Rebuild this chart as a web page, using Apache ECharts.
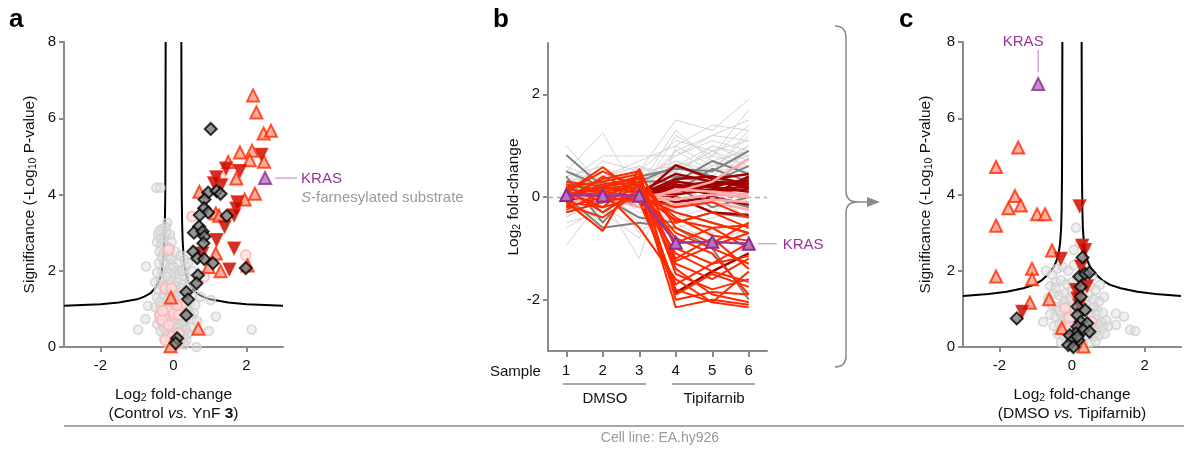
<!DOCTYPE html>
<html><head><meta charset="utf-8">
<script src="https://cdn.jsdelivr.net/npm/echarts@6/dist/echarts.min.js"></script>
<style>html,body{margin:0;padding:0;background:#fff}#c{width:1184px;height:452px}</style>
</head><body><div id="c"></div>
<script>
const FONT = "'Liberation Sans', Arial, Helvetica, sans-serif";

// ---------- Panel a: Control vs. YnF 3 ----------
const a_gray = [[-0.47,4.18],[-0.36,4.18],[-0.75,2.11],[-0.97,0.45],[-0.77,0.73],[-0.70,1.08],[1.16,0.8],[0.97,0.42],[2.14,0.46],[0.63,0.0],[1.02,1.23],[0.74,1.32],
[-0.17,3.26],[-0.3,3.1],[-0.42,2.95],[-0.25,2.9],[-0.1,2.95],[-0.45,2.75],[-0.33,2.7],[-0.2,2.65],[-0.05,2.75],[-0.38,2.5],[-0.28,2.45],[-0.12,2.4],[0.05,2.5],[0.2,2.4],[0.3,2.3],[-0.4,2.2],[-0.25,2.2],[-0.08,2.15],[0.1,2.2],[0.35,2.1],[0.5,2.0],[-0.45,1.95],[-0.3,2.0],[-0.15,1.95],[0.0,1.95],[0.15,1.9],[0.3,1.85],[0.45,1.8],[-0.5,1.7],[-0.35,1.75],[-0.2,1.7],[-0.05,1.72],[0.1,1.7],[0.25,1.65],[0.4,1.6],[0.55,1.55],[-0.4,1.5],[-0.25,1.5],[-0.1,1.45],[0.05,1.5],[0.2,1.45],[0.35,1.4],[0.5,1.35],[-0.45,1.3],[-0.3,1.28],[-0.15,1.25],[0.0,1.25],[0.15,1.22],[0.3,1.2],[0.45,1.15],[0.6,1.1],[-0.5,1.05],[-0.35,1.05],[-0.2,1.0],[-0.05,1.02],[0.1,1.0],[0.25,0.98],[0.4,0.95],[0.55,0.9],[-0.4,0.85],[-0.25,0.82],[-0.1,0.8],[0.05,0.8],[0.2,0.78],[0.35,0.75],[0.5,0.72],[0.65,0.68],[-0.45,0.6],[-0.3,0.62],[-0.15,0.6],[0.0,0.58],[0.15,0.6],[0.3,0.55],[0.45,0.52],[-0.35,0.42],[-0.2,0.4],[-0.05,0.38],[0.1,0.4],[0.25,0.38],[0.4,0.35],[-0.25,0.22],[-0.1,0.2],[0.05,0.22],[0.2,0.2],[0.35,0.18],[-0.15,0.08],[0.0,0.05],[0.15,0.08],[0.3,0.06],[-0.05,2.3],[-0.35,2.85],[-0.2,3.0],[0.12,2.0],[0.25,2.0],[0.4,2.2],
[-0.22,3.15],[-0.38,3.05],[-0.12,2.6],[-0.32,2.35],[0.0,2.1],[-0.18,1.85],[0.05,1.6],[-0.3,1.6],[0.2,1.55],[-0.08,1.35],[0.25,1.3],[-0.38,1.18],[0.05,1.12],[0.35,1.05],[-0.28,0.92],[0.15,0.9],[0.45,0.85],[-0.05,0.68],[0.25,0.68],[-0.38,0.72],[0.1,0.5],[-0.25,0.5],[0.35,0.45],[0.0,0.3],[-0.15,0.3],[0.28,0.28],[0.1,0.12]];
const a_pink = [[0.51,3.42],[-0.13,2.55],[-0.22,1.54],[-0.06,1.54],[1.98,2.41],[0.84,1.85],[1.29,4.47],[-0.36,0.84],[-0.17,0.97],[-0.31,0.71],[0.01,0.88],[0.19,1.06],[0.15,0.84],[-0.13,0.58],[-0.04,0.27],[0.15,0.36],[0.10,0.14],[0.27,1.15],[-0.22,0.18],[0.05,0.05],[-0.3,0.95],[0.1,1.1]];
const a_up = [[2.18,6.6],[2.27,6.15],[2.47,5.6],[2.67,5.67],[1.82,5.1],[2.15,5.15],[2.09,4.9],[2.48,4.86],[1.5,4.85],[1.72,4.42],[2.23,4.02],[1.95,3.87],[0.71,4.07],[1.16,3.5],[1.25,3.44],[1.16,2.45],[0.96,2.1],[1.29,1.99],[2.03,2.14],[-0.07,1.3],[0.68,0.48],[-0.08,0.02]];
const a_down = [[2.41,5.05],[1.44,4.69],[1.82,4.62],[1.17,4.46],[1.31,4.25],[1.11,4.3],[1.75,3.8],[1.72,3.64],[1.66,3.46],[1.4,3.16],[1.18,2.81],[1.66,2.59],[1.53,2.04],[0.79,2.46]];
const a_diamond = [[1.02,5.72],[0.95,4.05],[0.85,3.87],[1.18,4.09],[1.29,4.02],[0.84,3.64],[0.95,3.53],[0.72,3.46],[1.46,3.44],[0.70,3.16],[0.56,3.0],[0.8,3.03],[0.85,2.9],[0.82,2.72],[0.54,2.5],[0.65,2.33],[0.84,2.31],[1.08,2.2],[1.98,2.07],[0.67,1.88],[0.63,1.67],[0.35,1.44],[0.40,1.25],[0.35,0.84],[0.10,0.23],[0.06,0.1]];
const a_kras = [[2.51,4.43]];
const thrA_absX = [0.215,0.22,0.225,0.235,0.25,0.28,0.33,0.4,0.5,0.63,0.8,1.0,1.5,2.0,3.0];
const thrA_y    = [8,5.5,4.0,3.3,2.8,2.3,1.95,1.72,1.55,1.41,1.32,1.25,1.17,1.12,1.08];

// ---------- Panel b: per-sample log2 fold-change ----------
const samples = ['1','2','3','4','5','6'];
const b_lightgray = [
[1.0,0.2,0.5,1.5,1.3,1.9],[0.5,1.25,0.0,1.2,0.8,1.7],[-0.95,0.0,-1.2,1.0,1.4,1.3],[0.3,0.8,0.8,0.8,1.2,1.5],[-0.5,-0.3,-0.8,0.5,0.9,1.1],
[0.6,0.3,0.4,0.7,0.4,1.0],[0.0,0.4,0.7,1.0,0.6,0.8],[-0.3,0.1,-0.5,0.3,0.7,0.5],[0.2,-0.2,0.3,0.6,1.0,0.7],[0.4,0.6,0.2,0.9,0.5,1.2],
[-0.2,-0.4,0.5,-0.3,-0.7,-0.5],[0.1,0.2,-0.3,-0.4,-0.2,-0.8],[-0.4,0.0,0.1,-0.6,-0.4,-0.3],[0.5,0.1,0.6,0.2,0.3,0.9],[0.0,-0.5,0.2,0.4,0.2,0.4],
[0.3,0.5,-0.2,0.1,0.8,0.6],[-0.6,-0.2,0.3,0.8,1.1,0.9],[0.2,0.0,0.4,0.5,0.1,0.3],[-0.1,0.3,-0.7,-0.2,0.3,-0.1],[0.6,-0.1,0.0,0.0,-0.3,0.2],
[0.1,0.7,0.5,1.1,0.9,0.6],[-0.2,0.2,-0.1,0.7,0.5,1.3],[0.4,-0.3,0.1,-0.5,-0.9,-0.6],[0.0,0.1,0.3,0.3,0.6,1.0],[-0.3,-0.1,0.2,0.6,0.3,0.7],
[0.3,0.4,0.6,0.4,1.0,0.8],[0.2,0.1,-0.4,-0.8,-0.6,-1.0],[-0.1,0.5,0.0,0.9,1.2,1.1],[0.1,-0.4,0.4,0.2,-0.1,0.5],[0.5,0.3,0.2,1.3,0.7,0.9],
[-0.4,0.2,0.0,0.0,0.4,0.2],[0.0,0.0,0.5,0.6,0.8,1.4],[0.3,0.2,0.1,-0.2,0.0,-0.4],[-0.2,0.4,0.3,0.5,0.9,0.4],[0.1,-0.2,-0.6,0.2,0.5,0.6]];
const b_darkgray = [
[0.82,0.2,0.4,0.55,0.5,0.9],[0.4,-0.5,0.3,0.3,0.7,0.45],[0.0,-0.6,-0.5,-0.6,-1.0,-2.0],[0.3,0.1,-0.2,0.4,0.3,0.6],[-0.2,0.3,0.0,-0.3,-0.5,-0.7],
[0.2,-0.3,0.15,-0.1,0.0,-0.2],[0.5,0.2,0.0,0.2,-0.2,0.0],[-0.3,-0.1,0.3,0.6,0.4,0.15],[0.1,0.0,-0.4,-0.5,-0.3,-0.4],[0.25,0.15,0.1,0.1,0.55,0.3]];
const b_darkred = [
[0.0,0.05,0.0,0.62,0.35,0.45],[0.1,-0.05,0.1,0.2,0.3,0.25],[-0.05,0.0,0.05,0.15,0.2,0.35],[0.05,0.1,-0.05,0.25,0.1,0.15],[0.0,-0.1,0.1,0.1,0.25,0.3],
[-0.1,0.05,0.0,0.3,0.2,0.1],[0.05,0.0,0.1,0.05,0.15,0.2],[0.0,0.1,0.05,0.35,0.4,0.25],[0.1,0.0,-0.1,-0.1,0.0,-0.15],[-0.05,-0.05,0.0,0.2,0.05,0.4],
[0.0,0.05,0.05,-1.86,-1.45,-1.1],[0.05,-0.1,0.0,0.0,-0.3,-0.35],[0.0,0.0,0.1,0.45,0.3,0.2]];
const b_pink = [[0.0,0.1,0.05,-0.05,0.05,0.0],[-0.1,0.0,-0.2,-0.2,-0.1,-0.25],[0.1,0.05,0.0,0.1,0.3,0.75],[0.05,-0.1,0.1,-0.15,-0.05,-0.1],[0.0,0.0,-0.1,0.15,0.1,0.05]];
const b_red = [
[0.1,0.58,0.05,-0.45,-0.6,-0.55],[-0.1,-0.66,0.55,-1.0,-1.3,-1.15],[0.3,0.2,0.1,-1.9,-1.5,-1.75],[-0.3,-0.1,0.2,-2.15,-2.0,-2.1],[0.0,0.1,-0.6,-1.6,-2.05,-2.15],
[0.2,0.3,0.45,-0.6,-0.9,-0.5],[-0.2,0.0,0.3,-1.2,-0.8,-1.4],[0.1,-0.2,0.0,-0.3,-0.5,-0.7],[0.05,0.2,0.4,-1.5,-1.8,-1.6],[-0.1,0.4,0.1,-0.8,-1.1,-1.9],
[0.15,-0.3,0.15,-1.3,-1.6,-1.2],[0.0,0.35,0.5,-2.0,-1.85,-1.9],[-0.25,0.1,0.2,-0.9,-0.6,-1.0],[0.2,-0.1,0.05,-1.1,-1.45,-1.65],[0.0,0.2,0.3,-0.5,-0.3,-0.6],
[0.1,0.0,-0.1,-1.7,-1.3,-0.9],[-0.05,0.25,0.35,-1.4,-1.9,-2.05],[0.25,0.1,0.0,-0.2,-0.1,-0.4],[-0.15,-0.4,0.1,-0.7,-1.0,-1.3],[0.05,0.15,0.25,-1.8,-2.05,-1.45],
[0.1,0.5,0.2,-0.4,-0.75,-0.85],[-0.1,-0.2,0.4,-1.25,-0.95,-0.7]];
const b_kras = [0.04,0.03,0.03,-0.89,-0.87,-0.91];

// ---------- Panel c: DMSO vs. Tipifarnib ----------
const c_gray = [[0.11,3.13],[0.05,2.55],[0.22,2.72],[-0.72,2.0],[-0.79,0.66],[0.88,1.32],[1.21,0.88],[1.43,0.8],[1.6,0.45],[1.74,0.42],[0.77,1.63],[1.21,0.58],[0.58,0.45],
[-0.55,1.9],[-0.4,2.05],[-0.25,2.1],[-0.1,2.0],[0.05,2.15],[0.4,2.0],[0.55,1.85],[-0.6,1.6],[-0.45,1.7],[-0.3,1.75],[-0.15,1.65],[0.0,1.7],[0.15,1.75],[0.5,1.6],[0.65,1.5],[-0.65,1.3],[-0.5,1.4],[-0.35,1.35],[-0.2,1.4],[-0.05,1.3],[0.1,1.35],[0.45,1.35],[0.6,1.25],[0.75,1.2],[-0.55,1.1],[-0.4,1.05],[-0.25,1.1],[-0.1,1.0],[0.05,1.05],[0.4,1.1],[0.55,1.0],[0.7,0.95],[0.85,0.9],[-0.6,0.85],[-0.45,0.8],[-0.3,0.85],[-0.15,0.75],[0.0,0.8],[0.35,0.8],[0.5,0.75],[0.65,0.7],[0.8,0.65],[0.95,0.7],[-0.5,0.55],[-0.35,0.6],[-0.2,0.55],[-0.05,0.5],[0.1,0.55],[0.4,0.55],[0.55,0.5],[0.7,0.45],[0.85,0.5],[1.0,0.55],[-0.4,0.35],[-0.25,0.3],[-0.1,0.3],[0.05,0.25],[0.45,0.3],[0.6,0.28],[0.75,0.3],[0.9,0.35],[-0.3,0.12],[-0.15,0.1],[0.0,0.08],[0.3,0.1],[0.5,0.12],[0.65,0.15],[-0.45,1.55],[0.3,1.55],[0.25,1.2],[0.2,0.9],[0.15,0.35],[0.3,0.65],
[-0.2,1.2],[-0.35,0.95],[0.0,1.45],[0.35,1.25],[0.6,1.05],[-0.1,0.65],[0.25,0.45],[0.7,0.6],[-0.25,0.7],[0.5,0.9]];
const c_pink = [[-0.19,1.02],[-0.08,0.75],[0.54,0.66],[-0.06,0.53],[0.1,0.9]];
const c_up = [[-1.48,5.23],[-2.09,4.72],[-1.57,3.96],[-1.75,3.64],[-1.41,3.71],[-0.96,3.48],[-0.74,3.48],[-2.09,3.18],[-2.09,1.85],[-1.1,2.05],[-1.1,1.78],[-0.55,2.53],[-1.16,1.16],[-0.63,1.25],[-0.28,0.5],[0.32,0.01]];
const c_down = [[0.21,3.7],[-0.31,2.32],[0.28,2.66],[0.36,2.55],[0.25,2.12],[0.11,1.5],[0.41,1.6],[0.15,1.28],[-1.37,0.93],[0.2,1.1]];
const c_diamond = [[-1.52,0.75],[0.29,2.35],[0.2,1.85],[0.36,1.92],[0.48,1.95],[0.24,1.58],[0.24,1.32],[0.15,1.06],[0.36,0.97],[0.15,0.84],[0.24,0.66],[0.42,0.62],[0.15,0.53],[0.31,0.45],[0.48,0.4],[0.11,0.36],[-0.06,0.31],[0.17,0.18],[0.02,0.17],[-0.1,0.05],[0.04,0.0],[0.15,0.27]];
const c_kras = [[-0.93,6.9]];
const thrC_absX = [0.265,0.27,0.275,0.285,0.3,0.33,0.37,0.43,0.5,0.6,0.72,0.85,1.05,1.34,1.8,2.3,3.0];
const thrC_y    = [8,6,4.5,3.6,3.1,2.7,2.45,2.25,2.1,1.97,1.85,1.74,1.63,1.54,1.45,1.39,1.34];

const volcanoXTicks = [-2,0,2];
const lineYTicks = [-2,0,2];

// ---------- styles ----------
const AX = '#8a8a8a';
const rich = {
  t:{fontSize:15.5,fontFamily:FONT,color:'#111',lineHeight:19},
  s:{fontSize:10.5,fontFamily:FONT,color:'#111',lineHeight:10,verticalAlign:'bottom'},
  i:{fontSize:15.5,fontFamily:FONT,color:'#111',fontStyle:'italic',lineHeight:19},
  b:{fontSize:15.5,fontFamily:FONT,color:'#111',fontWeight:'bold',lineHeight:19}
};
function baseAxis(extra){
  return Object.assign({
    axisLine:{show:true,onZero:false,lineStyle:{color:AX,width:2}},
    axisTick:{show:true,length:5,lineStyle:{color:AX,width:2}},
    axisLabel:{color:'#111',fontSize:15,fontFamily:FONT},
    splitLine:{show:false},
    nameLocation:'middle',
    nameTextStyle:{rich:rich}
  }, extra);
}
function volcX(grid,name){
  const o = baseAxis({gridIndex:grid,type:'value',min:-3,max:3,name:name,nameGap:38});
  o.axisLabel = Object.assign({},o.axisLabel,{customValues:volcanoXTicks,margin:11});
  o.axisTick = Object.assign({},o.axisTick,{customValues:volcanoXTicks});
  return o;
}
function volcY(grid,gap){
  return baseAxis({gridIndex:grid,type:'value',min:0,max:8,interval:2,
    name:'{t|Significance (-Log}{s|10}{t| P-value)}',nameGap:gap});
}

const series = [];
function curve(grid, absX, ys){
  [-1,1].forEach(sgn=>{
    series.push({type:'line',xAxisIndex:grid,yAxisIndex:grid,silent:true,animation:false,
      symbol:'none',z:1,lineStyle:{color:'#000',width:2},
      data:absX.map((x,i)=>[sgn*x,ys[i]])});
  });
}
function scat(grid,data,kind,z){
  const st = {
    gray:{symbol:'circle',size:9,item:{color:'rgba(222,222,222,0.6)',borderColor:'#d0d0d0',borderWidth:1.6}},
    pink:{symbol:'circle',size:10,item:{color:'rgba(255,222,222,0.85)',borderColor:'#ffb3b3',borderWidth:2}},
    up:{symbol:'triangle',size:12,item:{color:'#ff9c8c',borderColor:'#ff2a00',borderWidth:2}},
    down:{symbol:'triangle',size:12,rot:180,item:{color:'#c00000',borderColor:'#e41e00',borderWidth:1.6}},
    dia:{symbol:'diamond',size:12,item:{color:'#7a7a7a',borderColor:'#000',borderWidth:2}},
    kras:{symbol:'triangle',size:12,item:{color:'#b574bd',borderColor:'#8e2a91',borderWidth:2}}
  }[kind];
  series.push({type:'scatter',xAxisIndex:grid,yAxisIndex:grid,silent:true,animation:false,
    symbol:st.symbol,symbolSize:st.size,symbolRotate:st.rot||0,itemStyle:st.item,z:z,data:data});
}
// panel a
curve(0,thrA_absX,thrA_y);
scat(0,a_gray,'gray',2); scat(0,a_pink,'pink',3); scat(0,a_up,'up',4); scat(0,a_down,'down',5); scat(0,a_diamond,'dia',6); scat(0,a_kras,'kras',7);
// panel c
curve(2,thrC_absX,thrC_y);
scat(2,c_gray,'gray',2); scat(2,c_pink,'pink',3); scat(2,c_up,'up',4); scat(2,c_down,'down',5); scat(2,c_diamond,'dia',6); scat(2,c_kras,'kras',7);
// panel b
function lines(arr,color,width,z){
  arr.forEach(d=>series.push({type:'line',xAxisIndex:1,yAxisIndex:1,silent:true,animation:false,
    symbol:'none',z:z,lineStyle:{color:color,width:width},data:d}));
}
series.push({type:'line',xAxisIndex:1,yAxisIndex:1,silent:true,animation:false,symbol:'none',z:1,data:[],
  markLine:{silent:true,symbol:'none',animation:false,label:{show:false},
    lineStyle:{color:'#aaaaaa',type:[5,4],width:1.3},data:[{yAxis:0}]}});
lines(b_lightgray,'#d4d4d4',1,2);
lines(b_darkgray,'#808080',2,3);
lines(b_darkred,'#a30000',2.5,4);
lines(b_pink,'#ffaaaa',2.5,5);
lines(b_red,'#ff2a00',2,6);
series.push({type:'line',xAxisIndex:1,yAxisIndex:1,silent:true,animation:false,z:8,
  symbol:'triangle',symbolSize:12,showSymbol:true,
  lineStyle:{color:'#97389c',width:2.5},itemStyle:{color:'#b574bd',borderColor:'#8e2a91',borderWidth:2},data:b_kras});

const yB = baseAxis({gridIndex:1,type:'value',min:-3,max:3,name:'{t|Log}{s|2}{t| fold-change}',nameGap:23});
yB.axisLabel = Object.assign({},yB.axisLabel,{customValues:lineYTicks});
yB.axisTick = Object.assign({},yB.axisTick,{customValues:lineYTicks});
const xB = baseAxis({gridIndex:1,type:'category',data:samples,boundaryGap:true});
xB.axisTick = Object.assign({},xB.axisTick,{alignWithLabel:true,length:6});
xB.axisLabel = Object.assign({},xB.axisLabel,{margin:12});

const option = {
  backgroundColor:'#fff',
  animation:false,
  grid:[
    {left:64,top:42,width:219,height:305},
    {left:548,top:43,width:219,height:308},
    {left:963,top:42,width:218,height:305}
  ],
  xAxis:[
    volcX(0,'{t|Log}{s|2}{t| fold-change}\n{t|(Control }{i|vs.}{t| YnF }{b|3}{t|)}'),
    xB,
    volcX(2,'{t|Log}{s|2}{t| fold-change}\n{t|(DMSO }{i|vs.}{t| Tipifarnib)}')
  ],
  yAxis:[volcY(0,25), yB, volcY(2,28)],
  series:series
};
const chart = echarts.init(document.getElementById('c'));
chart.setOption(option);

// ---------- annotations ----------
const pA = chart.convertToPixel({gridIndex:0}, a_kras[0]);
const pB = chart.convertToPixel({gridIndex:1}, [samples[5], b_kras[5]]);
const pC = chart.convertToPixel({gridIndex:2}, c_kras[0]);
const LEAD = '#d9a3d9', KC = '#99339a';
const txt = (x,y,text,font,fill,align,va)=>({type:'text',x:x,y:y,silent:true,
  style:{text:text,font:font,fill:fill,align:align||'left',verticalAlign:va||'middle'}});
const ln = (x1,y1,x2,y2,color,w)=>({type:'line',silent:true,shape:{x1,y1,x2,y2},style:{stroke:color,lineWidth:w||1.5}});
const bz = (x1,y1,cx,cy,x2,y2)=>({type:'bezierCurve',silent:true,shape:{x1,y1,cpx1:cx,cpy1:cy,x2,y2},style:{stroke:AX,lineWidth:1.5,fill:null}});
const graphic = [
  txt(9,20,'a',"bold 26px "+FONT,'#000'),
  txt(493,20,'b',"bold 26px "+FONT,'#000'),
  txt(899,20,'c',"bold 26px "+FONT,'#000'),
  // KRAS annotations
  ln(pA[0]+10,pA[1],pA[0]+32,pA[1],LEAD,1.5),
  txt(pA[0]+36,pA[1]+1,'KRAS',"15px "+FONT,KC),
  {type:'text',x:pA[0]+36,y:pA[1]+20,silent:true,style:{text:'{i|S}{n|-farnesylated substrate}',align:'left',verticalAlign:'middle',
    rich:{i:{fontSize:15,fontFamily:FONT,fontStyle:'italic',fill:'#9a9a9a'},n:{fontSize:15,fontFamily:FONT,fill:'#9a9a9a'}}}},
  ln(pB[0]+9,pB[1],pB[0]+28,pB[1],LEAD,1.5),
  txt(pB[0]+34,pB[1]+1,'KRAS',"15px "+FONT,KC),
  ln(pC[0],pC[1]-12,pC[0],pC[1]-34,LEAD,1.5),
  txt(pC[0]-15,pC[1]-42,'KRAS',"15px "+FONT,KC,'center','middle'),
  // panel b sample grouping
  txt(490,372,'Sample',"15px "+FONT,'#111'),
  ln(563,384,646,384,AX,1.5),
  ln(672,384,755,384,AX,1.5),
  txt(605,399,'DMSO',"15px "+FONT,'#111','center'),
  txt(714,399,'Tipifarnib',"15px "+FONT,'#111','center'),
  // brace + arrow
  bz(835,26,846,26,846,38),
  ln(846,38,846,191,AX,1.5),
  bz(846,191,846,202,857,202),
  bz(857,202,846,202,846,213),
  ln(846,213,846,356,AX,1.5),
  bz(846,356,846,367,835,367),
  ln(857,202,869,202,AX,1.5),
  {type:'polygon',silent:true,shape:{points:[[867,197],[880,202],[867,207]]},style:{fill:AX}},
  // bottom rule + caption
  ln(64,426,1184,426,AX,1.5),
  txt(660,438,'Cell line: EA.hy926',"14px "+FONT,'#9a9a9a','center')
];
chart.setOption({graphic:graphic});
</script></body></html>
